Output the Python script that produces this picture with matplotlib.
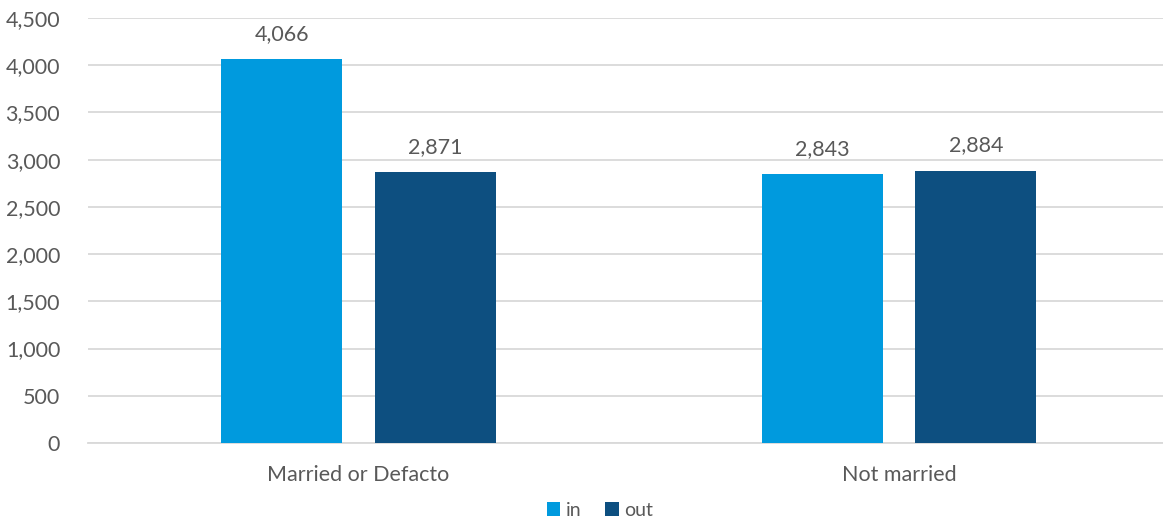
import matplotlib.pyplot as plt
import matplotlib.ticker as mtick
import numpy as np

categories = ["Married or Defacto", "Not married"]
series_names = ["in", "out"]
in_values = [4066, 2843]
out_values = [2871, 2884]

colors = ["#009ADE", "#0D4F80"]
text_color = "#595959"

plt.rcParams['font.family'] = ['Lato', 'DejaVu Sans']

fig = plt.figure(figsize=(11.63, 5.19), dpi=100)
ax = fig.add_axes([88 / 1163, 1 - 443 / 519, 1 - 88 / 1163, (443 - 18) / 519])

x = np.arange(len(categories))
width = 0.224
offset = 0.142
bars_in = ax.bar(x - offset, in_values, width, color=colors[0], label=series_names[0], zorder=3)
bars_out = ax.bar(x + offset, out_values, width, color=colors[1], label=series_names[1], zorder=3)

for bars in (bars_in, bars_out):
    for b in bars:
        ax.text(b.get_x() + b.get_width() / 2, b.get_height() + 160,
                "{:,}".format(int(b.get_height())), ha="center", va="bottom",
                fontsize=15.5, color=text_color)

ax.set_xlim(-0.5, 1.488)
ax.set_ylim(0, 4500)
ax.set_yticks(np.arange(0, 4501, 500))
ax.yaxis.set_major_formatter(mtick.StrMethodFormatter("{x:,.0f}"))
ax.set_xticks(x)
ax.set_xticklabels(categories)
ax.grid(axis="y", color="#D9D9D9", linewidth=1.3, zorder=0)
for s in ["top", "right", "left"]:
    ax.spines[s].set_visible(False)
ax.spines["bottom"].set_color("#D9D9D9")
ax.spines["bottom"].set_linewidth(1.3)
ax.tick_params(axis="both", length=0, labelsize=15.5, labelcolor=text_color)
ax.tick_params(axis="x", pad=16)
ax.tick_params(axis="y", pad=20)

fig.legend(handles=[bars_in, bars_out], labels=series_names, loc="center",
           bbox_to_anchor=(600 / 1163, 1 - 510 / 519), ncol=2, frameon=False,
           fontsize=14, labelcolor=text_color, handlelength=0.7, handleheight=0.7,
           handletextpad=0.3, columnspacing=1.2)

plt.savefig("out.png", dpi=100)
